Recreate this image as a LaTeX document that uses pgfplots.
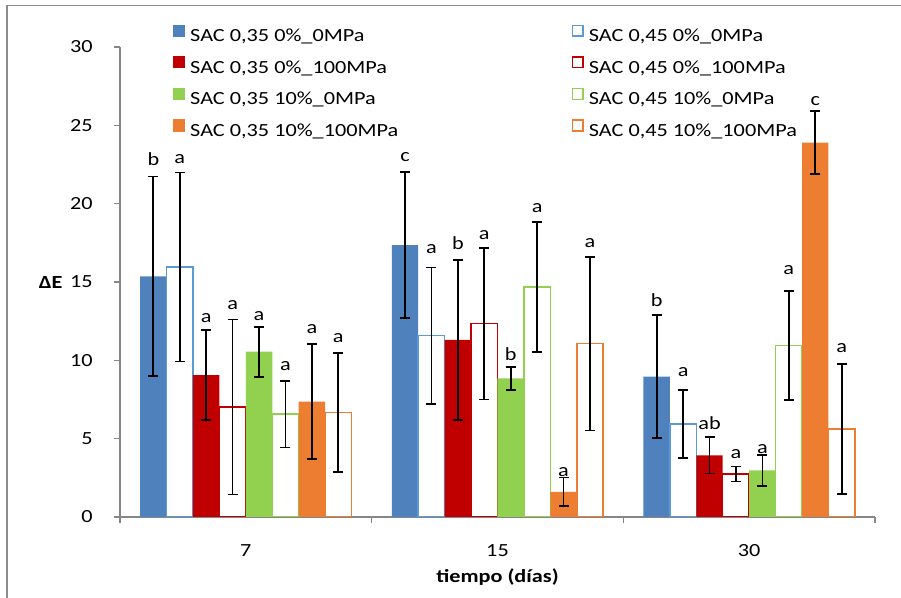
\documentclass[border=0pt]{standalone}
\usepackage{fontspec}
\setmainfont{Carlito}[FakeStretch=1.2]
\usepackage{pgfplots}
\usepackage{pgfplotstable}
\pgfplotsset{compat=1.18}

\definecolor{cBlue}{HTML}{4F81BD}
\definecolor{cBlueL}{HTML}{5B9BD5}
\definecolor{cRed}{HTML}{C00000}
\definecolor{cGreen}{HTML}{92D050}
\definecolor{cOrange}{HTML}{ED7D31}
\definecolor{axgray}{HTML}{868686}
\definecolor{frgray}{HTML}{8C8C8C}
\newcommand{\cf}{\fontsize{13.9pt}{16pt}\selectfont}

% x = group (0: 7 d, 1: 15 d, 2: 30 d), y = mean, e = error, ly = letter position, lab = letter
\pgfplotstableread{
x y e ly lab
0 15.36 6.38 22.85 b
1 17.36 4.68 23.00 c
2 8.96 3.93 13.85 b
}\sA
\pgfplotstableread{
x y e ly lab
0 15.96 6.03 22.85 a
1 11.57 4.36 17.10 a
2 5.94 2.18 9.23 a
}\sB
\pgfplotstableread{
x y e ly lab
0 9.06 2.86 12.68 a
1 11.30 5.10 17.47 b
2 3.94 1.16 5.98 ab
}\sC
\pgfplotstableread{
x y e ly lab
0 7.02 5.58 13.53 a
1 12.34 4.84 18.00 a
2 2.74 0.48 4.00 a
}\sD
\pgfplotstableread{
x y e ly lab
0 10.55 1.60 12.83 a
1 8.85 0.73 10.40 b
2 2.98 0.98 4.34 a
}\sE
\pgfplotstableread{
x y e ly lab
0 6.57 2.13 9.66 a
1 14.68 4.16 19.70 a
2 10.94 3.47 15.77 a
}\sF
\pgfplotstableread{
x y e ly lab
0 7.36 3.68 11.98 a
1 1.60 0.92 2.89 a
2 23.89 2.01 26.55 c
}\sG
\pgfplotstableread{
x y e ly lab
0 6.68 3.79 11.45 a
1 11.06 5.54 17.47 a
2 5.62 4.16 10.77 a
}\sH

\pgfplotsset{
  bb/.style={ybar, bar width=0.105, bar shift=0pt,
    error bars/y dir=both, error bars/y explicit,
    error bars/error bar style={black, line width=1.3pt},
    error bars/error mark=-,
    error bars/error mark options={black, line width=1.3pt, mark size=3.75pt, rotate=90}},
  full/.style={fill=#1, draw=none, bb,
    legend image code/.code={\fill[#1] (0pt,-0.1pt) rectangle (9.2pt,9.1pt);}},
  hollow/.style={fill=white, draw=#1, line width=1.1pt, bb,
    legend image code/.code={\draw[#1, fill=white, line width=1.1pt] (0.55pt,0.45pt) rectangle (8.65pt,8.55pt);}},
  lab/.style={draw=none, forget plot, nodes near coords, point meta=explicit symbolic,
    nodes near coords style={font=\cf, anchor=center, inner sep=0pt}},
}

\begin{document}
\begin{tikzpicture}
\begin{axis}[
  name=ax, at={(0,0)}, anchor=south west,
  width=566.25pt, height=352.5pt, scale only axis,
  xmin=-0.5, xmax=2.5, ymin=0, ymax=30,
  axis lines*=left,
  axis line style={draw=axgray, line width=0.9pt},
  tick align=outside, major tick length=4.5pt,
  tick style={draw=axgray, line width=0.9pt},
  xtick={-0.5,0.5,1.5,2.5}, xticklabels={,,,},
  extra x ticks={0,1,2}, extra x tick labels={7,15,30},
  extra x tick style={tick style={draw=none}},
  ytick={0,5,...,30},
  /pgf/number format/assume math mode=true,
  yticklabel style={font=\cf, anchor=east, inner sep=0pt, xshift=-15.75pt},
  xticklabel style={font=\cf, anchor=center, inner sep=0pt, yshift=-21pt},
  xlabel={\bfseries tiempo (días)},
  ylabel={\bfseries ΔE},
  every axis x label/.style={at={(axis description cs:0.5,0)}, anchor=center, yshift=-45pt, font=\cf},
  every axis y label/.style={at={(axis description cs:0,0.5)}, anchor=center, xshift=-52pt, font=\cf},
  legend columns=2,
  legend cell align=left,
  legend style={at={(axis description cs:0.0698,1.0482)}, anchor=north west,
    draw=none, fill=none, inner sep=0pt, font=\cf,
    column sep=3.75pt, row sep=8.1pt,
    /tikz/every even column/.append style={column sep=130pt},
    nodes={inner sep=0pt, text height=10pt, text depth=3pt}},
]
\addplot[full=cBlue] table[x expr=\thisrow{x}-0.3675, y=y, y error=e] {\sA};
\addlegendentry{SAC 0,35 0\%\_0MPa}
\addplot[hollow=cBlueL] table[x expr=\thisrow{x}-0.2625, y=y, y error=e] {\sB};
\addlegendentry{SAC 0,45 0\%\_0MPa}
\addplot[full=cRed] table[x expr=\thisrow{x}-0.1575, y=y, y error=e] {\sC};
\addlegendentry{SAC 0,35 0\%\_100MPa}
\addplot[hollow=cRed] table[x expr=\thisrow{x}-0.0525, y=y, y error=e] {\sD};
\addlegendentry{SAC 0,45 0\%\_100MPa}
\addplot[full=cGreen] table[x expr=\thisrow{x}+0.0525, y=y, y error=e] {\sE};
\addlegendentry{SAC 0,35 10\%\_0MPa}
\addplot[hollow=cGreen] table[x expr=\thisrow{x}+0.1575, y=y, y error=e] {\sF};
\addlegendentry{SAC 0,45 10\%\_0MPa}
\addplot[full=cOrange] table[x expr=\thisrow{x}+0.2625, y=y, y error=e] {\sG};
\addlegendentry{SAC 0,35 10\%\_100MPa}
\addplot[hollow=cOrange] table[x expr=\thisrow{x}+0.3675, y=y, y error=e] {\sH};
\addlegendentry{SAC 0,45 10\%\_100MPa}

\addplot[lab] table[x expr=\thisrow{x}-0.3675, y=ly, meta=lab] {\sA};
\addplot[lab] table[x expr=\thisrow{x}-0.2625, y=ly, meta=lab] {\sB};
\addplot[lab] table[x expr=\thisrow{x}-0.1575, y=ly, meta=lab] {\sC};
\addplot[lab] table[x expr=\thisrow{x}-0.0525, y=ly, meta=lab] {\sD};
\addplot[lab] table[x expr=\thisrow{x}+0.0525, y=ly, meta=lab] {\sE};
\addplot[lab] table[x expr=\thisrow{x}+0.1575, y=ly, meta=lab] {\sF};
\addplot[lab] table[x expr=\thisrow{x}+0.2625, y=ly, meta=lab] {\sG};
\addplot[lab] table[x expr=\thisrow{x}+0.3675, y=ly, meta=lab] {\sH};
\end{axis}
\draw[frgray, line width=1pt] (ax.south west) ++(-84.75pt,-80pt) -- ++(0pt,463.5pt) -- ++(800pt,0pt);
\pgfresetboundingbox
\path[use as bounding box] (ax.south west) ++(-90pt,-60.75pt) rectangle ++(675.75pt,448.5pt);
\end{tikzpicture}
\end{document}
